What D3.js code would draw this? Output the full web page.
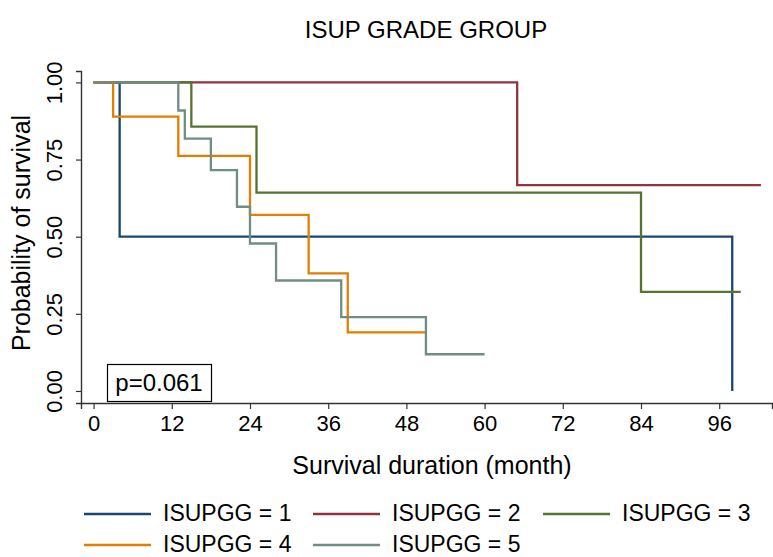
<!DOCTYPE html>
<html>
<head>
<meta charset="utf-8">
<script src="https://cdn.jsdelivr.net/npm/d3@7"></script>
<style>
  body { margin: 0; background: #fff; }
  text { font-family: "Liberation Sans", Arial, sans-serif; fill: #000; }
</style>
</head>
<body>
<div id="chart"></div>
<script>
// Kaplan-Meier curves, values
const groups = ["ISUPGG = 1", "ISUPGG = 2", "ISUPGG = 3", "ISUPGG = 4", "ISUPGG = 5"];
const colors = ["#1a476f", "#90353b", "#55752f", "#e37e00", "#6e8e84"];

const times1 = [0, 4, 98];
const surv1  = [1, 0.5, 0];
const times2 = [0, 65, 102.4];
const surv2  = [1, 0.667, 0.667];
const times3 = [0, 15, 25, 84, 99.3];
const surv3  = [1, 0.857, 0.643, 0.321, 0.321];
const times4 = [0, 3, 13, 24, 33, 39, 51];
const surv4  = [1, 0.889, 0.762, 0.571, 0.381, 0.190, 0.190];
const times5 = [0, 13, 14, 18, 22, 24, 28, 38, 51, 60];
const surv5  = [1, 0.909, 0.818, 0.716, 0.597, 0.478, 0.358, 0.239, 0.119, 0.119];

const xTicks = [0, 12, 24, 36, 48, 60, 72, 84, 96];
const yTicks = [0, 0.25, 0.5, 0.75, 1];
const yTickLabels = ["0.00", "0.25", "0.50", "0.75", "1.00"];

const title = "ISUP GRADE GROUP";
const xTitle = "Survival duration (month)";
const yTitle = "Probability of survival";
const pText = "p=0.061";

const allTimes = [times1, times2, times3, times4, times5];
const allSurv = [surv1, surv2, surv3, surv4, surv5];

const width = 773;
const height = 557;

const svg = d3.select("#chart")
  .append("svg")
  .attr("width", width)
  .attr("height", height);

// scales (axis runs a bit past the data on both ends, like stata)
const x = d3.scaleLinear().domain([-1.93, 104.1]).range([81, 772]);
const y = d3.scaleLinear().domain([-0.039, 1.037]).range([403, 71]);

// title
svg.append("text")
  .attr("x", 426)
  .attr("y", 38)
  .attr("text-anchor", "middle")
  .style("font-size", "24px")
  .text(title);

// x axis
const xAxis = svg.append("g")
  .attr("transform", "translate(0,403)")
  .call(d3.axisBottom(x).tickValues(xTicks).tickSizeOuter(0).tickSize(6).tickPadding(6));
xAxis.select(".domain").attr("stroke", "#333").attr("stroke-width", 1.4);
xAxis.selectAll(".tick line").attr("stroke", "#333").attr("stroke-width", 1.2);
xAxis.selectAll(".tick text")
  .style("font-size", "22px")
  .style("font-family", "'Liberation Sans', Arial, sans-serif")
  .attr("fill", "#000");

// y axis with rotated labels
const yAxis = svg.append("g")
  .attr("transform", "translate(81,0)")
  .call(d3.axisLeft(y).tickValues(yTicks).tickSizeOuter(0).tickSize(5)
    .tickFormat((d, i) => yTickLabels[i]));
yAxis.select(".domain").attr("stroke", "#333").attr("stroke-width", 1.4);
yAxis.selectAll(".tick line").attr("stroke", "#333").attr("stroke-width", 1.2);
yAxis.selectAll(".tick text")
  .attr("x", null).attr("dy", null)
  .attr("text-anchor", "middle")
  .attr("transform", "translate(-19,0) rotate(-90)")
  .style("font-size", "22px")
  .style("font-family", "'Liberation Sans', Arial, sans-serif")
  .attr("fill", "#000");

// axis titles
svg.append("text")
  .attr("x", 432)
  .attr("y", 474)
  .attr("text-anchor", "middle")
  .style("font-size", "25px")
  .text(xTitle);

svg.append("text")
  .attr("transform", "translate(30,233) rotate(-90)")
  .attr("text-anchor", "middle")
  .style("font-size", "25px")
  .text(yTitle);

// survival curves
const line = d3.line()
  .x(d => x(d[0]))
  .y(d => y(d[1]))
  .curve(d3.curveStepAfter);

for (let i = 0; i < groups.length; i++){
    const pts = allTimes[i].map((t, j) => [t, allSurv[i][j]]);
    svg.append("path")
      .datum(pts)
      .attr("fill", "none")
      .attr("stroke", colors[i])
      .attr("stroke-width", 2.3)
      .attr("d", line);
}

// p value box
svg.append("rect")
  .attr("x", 107.5)
  .attr("y", 364.5)
  .attr("width", 104)
  .attr("height", 37)
  .attr("fill", "#fff")
  .attr("stroke", "#000")
  .attr("stroke-width", 1.2);
svg.append("text")
  .attr("x", 159)
  .attr("y", 391)
  .attr("text-anchor", "middle")
  .style("font-size", "24px")
  .text(pText);

// legend, 3 per row
const legX = [84, 313, 543];
const legY = [514, 545];
for (let i = 0; i < groups.length; i++){
    const lx = legX[i % 3];
    const ly = legY[Math.floor(i / 3)];
    svg.append("line")
      .attr("x1", lx).attr("x2", lx + 67)
      .attr("y1", ly).attr("y2", ly)
      .attr("stroke", colors[i])
      .attr("stroke-width", 2.5);
    svg.append("text")
      .attr("x", lx + 79)
      .attr("y", ly + 7)
      .style("font-size", "23px")
      .text(groups[i]);
}
</script>
</body>
</html>
